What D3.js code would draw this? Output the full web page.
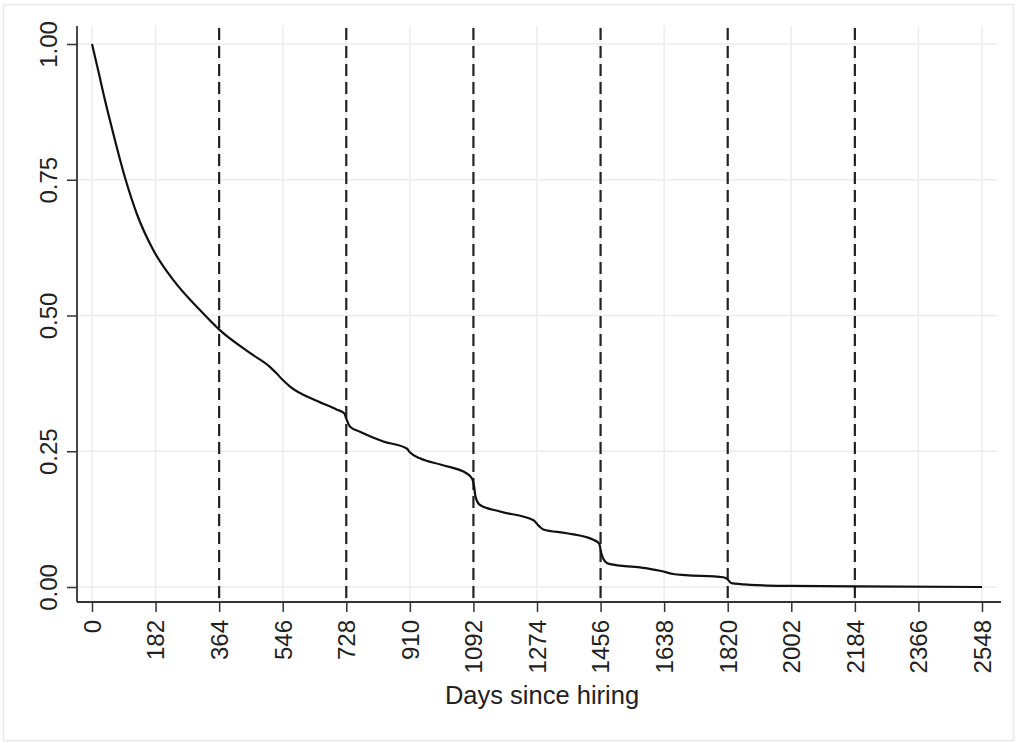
<!DOCTYPE html>
<html>
<head>
<meta charset="utf-8">
<script src="https://cdn.jsdelivr.net/npm/d3@7"></script>
<style>
  body { margin: 0; background: #ffffff; }
  svg { display: block; font-family: "Liberation Sans", Arial, sans-serif; }
</style>
</head>
<body>
<svg width="1025" height="743"></svg>
<script>
// Kaplan-Meier style survival estimate
var days = [0, 20, 34, 57, 94, 129, 175, 233, 309, 366, 452, 510, 529, 545, 567, 643, 700, 722, 728, 739, 767, 834, 901, 910, 939, 1000, 1073, 1088, 1094, 1098, 1111, 1168, 1264, 1280, 1292, 1359, 1435, 1452, 1458, 1469, 1483, 1569, 1626, 1664, 1700, 1807, 1818, 1831, 1884, 2000, 2184, 2548];
var survival = [1.0, 0.945, 0.905, 0.845, 0.755, 0.686, 0.621, 0.565, 0.51, 0.473, 0.431, 0.405, 0.393, 0.382, 0.369, 0.343, 0.327, 0.32, 0.31, 0.295, 0.286, 0.268, 0.255, 0.248, 0.237, 0.225, 0.209, 0.2, 0.185, 0.166, 0.151, 0.139, 0.123, 0.112, 0.106, 0.099, 0.087, 0.08, 0.062, 0.047, 0.042, 0.036, 0.03, 0.024, 0.022, 0.018, 0.015, 0.007, 0.004, 0.002, 0.001, 0.0];

// yearly markers (dashed) and axis ticks
var yearDays = [364, 728, 1092, 1456, 1820, 2184];
var xTicks = [0, 182, 364, 546, 728, 910, 1092, 1274, 1456, 1638, 1820, 2002, 2184, 2366, 2548];
var yTicks = [0, 0.25, 0.5, 0.75, 1];
var xTitle = "Days since hiring";

function main() {
  var svg = d3.select("svg");

  // plot box edges
  var left = 77, right = 1001, top = 26, bottom = 602;

  var xScale = d3.scaleLinear().domain([0, 2548]).range([92, 982]);
  var yScale = d3.scaleLinear().domain([0, 1]).range([587, 44]);

  // outer frame
  svg.append("rect")
    .attr("x", 3.5).attr("y", 4.5)
    .attr("width", 1010).attr("height", 736)
    .attr("fill", "#ffffff")
    .attr("stroke", "#e9e9e9")
    .attr("stroke-width", 1.5);

  // light grid
  svg.append("g")
    .selectAll("line")
    .data(xTicks)
    .enter()
    .append("line")
    .attr("x1", function (d) { return xScale(d); })
    .attr("x2", function (d) { return xScale(d); })
    .attr("y1", top)
    .attr("y2", bottom)
    .attr("stroke", "#ececec")
    .attr("stroke-width", 1.5);

  svg.append("g")
    .selectAll("line")
    .data(yTicks)
    .enter()
    .append("line")
    .attr("x1", left)
    .attr("x2", right - 4)
    .attr("y1", function (d) { return yScale(d); })
    .attr("y2", function (d) { return yScale(d); })
    .attr("stroke", "#ececec")
    .attr("stroke-width", 1.5);

  // dashed yearly lines
  svg.append("g")
    .selectAll("line")
    .data(yearDays)
    .enter()
    .append("line")
    .attr("x1", function (d) { return xScale(d); })
    .attr("x2", function (d) { return xScale(d); })
    .attr("y1", top + 2)
    .attr("y2", bottom)
    .attr("stroke", "#222222")
    .attr("stroke-width", 2.2)
    .attr("stroke-dasharray", "12,6");

  // survival curve
  var points = days.map(function (d, i) { return [d, survival[i]]; });
  var line = d3.line()
    .x(function (d) { return xScale(d[0]); })
    .y(function (d) { return yScale(d[1]); })
    .curve(d3.curveMonotoneX);

  svg.append("path")
    .datum(points)
    .attr("d", line)
    .attr("fill", "none")
    .attr("stroke", "#111111")
    .attr("stroke-width", 2.2);

  // y axis
  var yAxis = svg.append("g")
    .attr("transform", "translate(" + left + ",0)")
    .call(d3.axisLeft(yScale).tickValues(yTicks).tickSize(10).tickSizeOuter(0).tickFormat(d3.format(".2f")));
  yAxis.select(".domain").remove();
  yAxis.selectAll(".tick line").attr("stroke", "#333").attr("stroke-width", 1.5);
  yAxis.selectAll(".tick text")
    .attr("x", 0)
    .attr("dy", 0)
    .style("font-size", "24px")
    .style("fill", "#222")
    .attr("text-anchor", "middle")
    .attr("transform", "translate(-20,0) rotate(-90)");

  // x axis
  var xAxis = svg.append("g")
    .attr("transform", "translate(0," + bottom + ")")
    .call(d3.axisBottom(xScale).tickValues(xTicks).tickSize(10).tickSizeOuter(0).tickFormat(d3.format("d")));
  xAxis.select(".domain").remove();
  xAxis.selectAll(".tick line").attr("stroke", "#333").attr("stroke-width", 1.5);
  xAxis.selectAll(".tick text")
    .attr("x", 0)
    .attr("y", 0)
    .attr("dy", "0.35em")
    .style("font-size", "24px")
    .style("fill", "#222")
    .attr("text-anchor", "end")
    .attr("transform", "translate(0,18) rotate(-90)");

  // axis lines
  svg.append("line")
    .attr("x1", left).attr("x2", left)
    .attr("y1", top).attr("y2", bottom)
    .attr("stroke", "#333").attr("stroke-width", 1.8);
  svg.append("line")
    .attr("x1", left).attr("x2", right)
    .attr("y1", bottom).attr("y2", bottom)
    .attr("stroke", "#333").attr("stroke-width", 1.8);

  // axis title
  svg.append("text")
    .attr("x", (left + right) / 2 + 3)
    .attr("y", 704)
    .attr("text-anchor", "middle")
    .style("font-size", "25.5px")
    .style("fill", "#222")
    .text(xTitle);
}

main();
</script>
</body>
</html>
